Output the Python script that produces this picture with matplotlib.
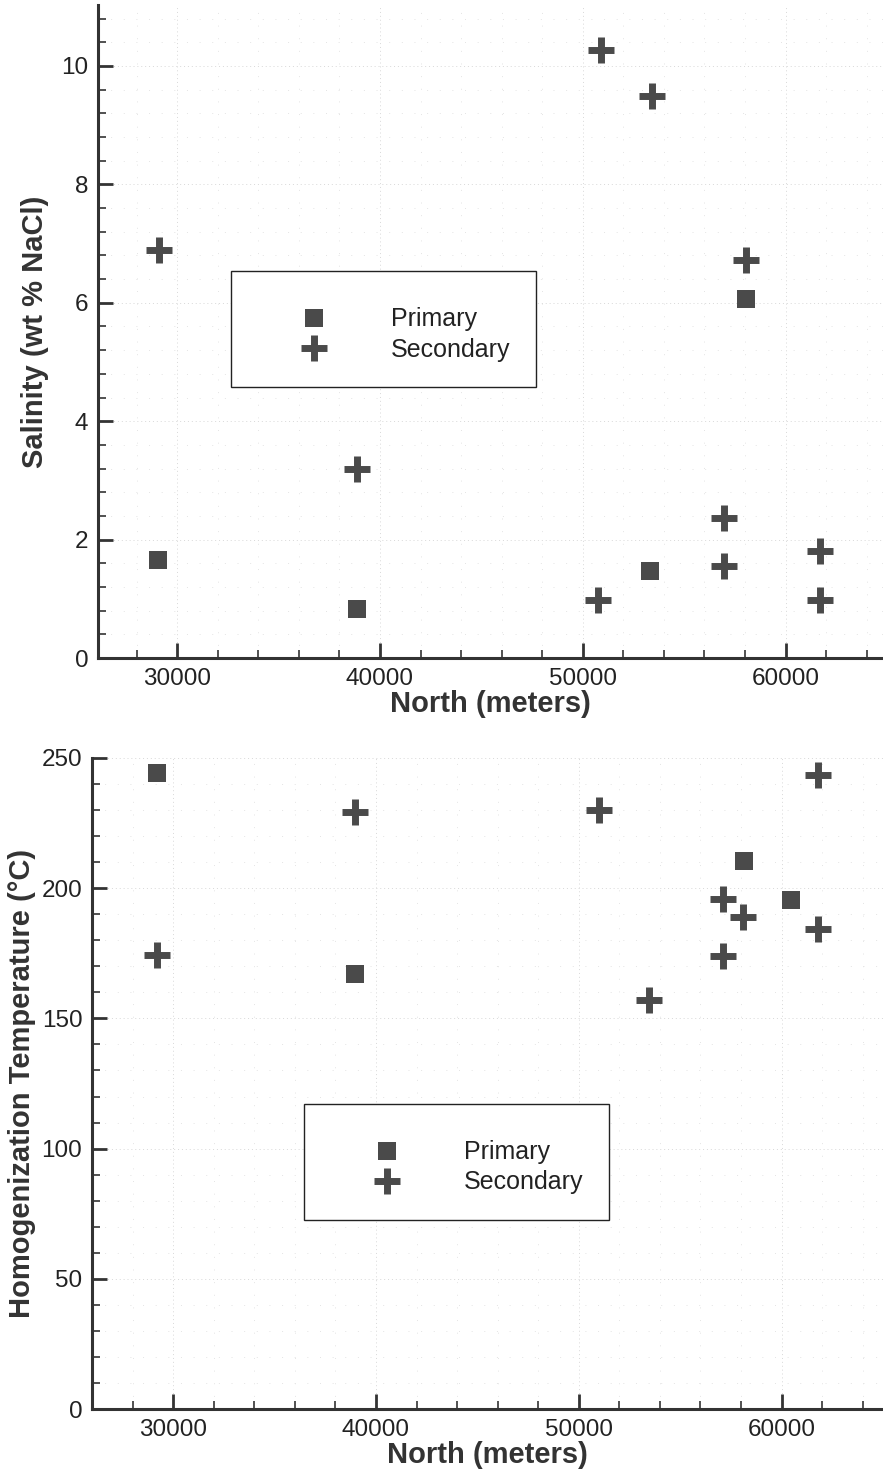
import numpy as np
import matplotlib
matplotlib.use('Agg')
from matplotlib import pyplot as plt
from matplotlib.ticker import MultipleLocator

plt.rcParams['font.family'] = ['Liberation Sans', 'DejaVu Sans']

# salinity panel
sal_prim_x = [29060, 38880, 53290, 58070]
sal_prim_y = [1.66, 0.83, 1.47, 6.06]
sal_sec_x = [29110, 38880, 50920, 53430, 58070, 56980, 56980, 50770, 61670, 61670]
sal_sec_y = [6.89, 3.19, 10.27, 9.49, 6.72, 2.36, 1.55, 0.98, 1.81, 0.98]

# homogenization temperature panel
tem_prim_x = [29210, 38980, 58130, 60440]
tem_prim_y = [244.2, 167.0, 210.4, 195.5]
tem_sec_x = [29210, 38980, 50980, 53450, 57100, 57100, 58080, 61780, 61780]
tem_sec_y = [174.3, 229.3, 230.0, 157.0, 195.9, 174.0, 188.9, 243.5, 184.3]

labels = ['Primary', 'Secondary']
mark_col = '#4a4a4a'
ax_col = '#333333'

fig = plt.figure(figsize=(8.83, 14.74), dpi=100)
ax1 = fig.add_axes([98/883, 1-658/1474, 785/883, 653/1474])
ax2 = fig.add_axes([92/883, 1-1409/1474, 791/883, 651/1474])


def style(ax, ymaj, ymin, xlim, ylim, ylabel, labelpad):
    ax.set_xlim(*xlim)
    ax.set_ylim(*ylim)
    ax.xaxis.set_major_locator(MultipleLocator(10000))
    ax.xaxis.set_minor_locator(MultipleLocator(2000))
    ax.yaxis.set_major_locator(MultipleLocator(ymaj))
    ax.yaxis.set_minor_locator(MultipleLocator(ymin))
    for s in ['top', 'right']:
        ax.spines[s].set_visible(False)
    for s in ['left', 'bottom']:
        ax.spines[s].set_linewidth(2.2)
        ax.spines[s].set_color(ax_col)
    ax.tick_params(which='major', direction='in', length=11, width=2,
                   color=ax_col, labelsize=17.5, labelcolor='#222222', pad=7)
    ax.tick_params(which='minor', direction='in', length=6, width=1.2, color=ax_col)
    ax.grid(which='major', color='#d8d8d8', linestyle=(0, (1, 3)), linewidth=0.7)
    ax.grid(which='minor', color='#e4e4e4', linestyle=(0, (1, 12)), linewidth=0.7)
    ax.set_axisbelow(True)
    ax.set_xlabel('North (meters)', fontsize=21, fontweight='bold', color='#333333', labelpad=0)
    ax.set_ylabel(ylabel, fontsize=21, fontweight='bold', color='#333333', labelpad=labelpad)


def draw(ax, px, py, sx, sy, anchor):
    h1, = ax.plot(px, py, linestyle='none', marker='s', markersize=13,
                  color=mark_col, markeredgewidth=0, label=labels[0])
    h2, = ax.plot(sx, sy, linestyle='none', marker='+', markersize=19,
                  markeredgewidth=5, color=mark_col, label=labels[1])
    leg = ax.legend(handles=[h1, h2], loc='upper left', bbox_to_anchor=anchor,
                    fontsize=18, frameon=True, fancybox=False, framealpha=1,
                    edgecolor='#222222', borderpad=1.0, labelspacing=0.25,
                    handlelength=4.6, handletextpad=0.8, numpoints=1,
                    borderaxespad=0, title=' ', title_fontsize=4)
    leg.get_frame().set_linewidth(1.0)
    for t in leg.get_texts():
        t.set_color('#222222')


style(ax1, 2, 0.4, (26100, 64800), (0, 11.03), 'Salinity (wt % NaCl)', 9)
draw(ax1, sal_prim_x, sal_prim_y, sal_sec_x, sal_sec_y, (133/785, (658-271)/653))

style(ax2, 50, 10, (26000, 65000), (0, 250), 'Homogenization Temperature (°C)', 4)
draw(ax2, tem_prim_x, tem_prim_y, tem_sec_x, tem_sec_y, (212/791, (1409-1104)/651))

fig.savefig('out.png', dpi=100)
